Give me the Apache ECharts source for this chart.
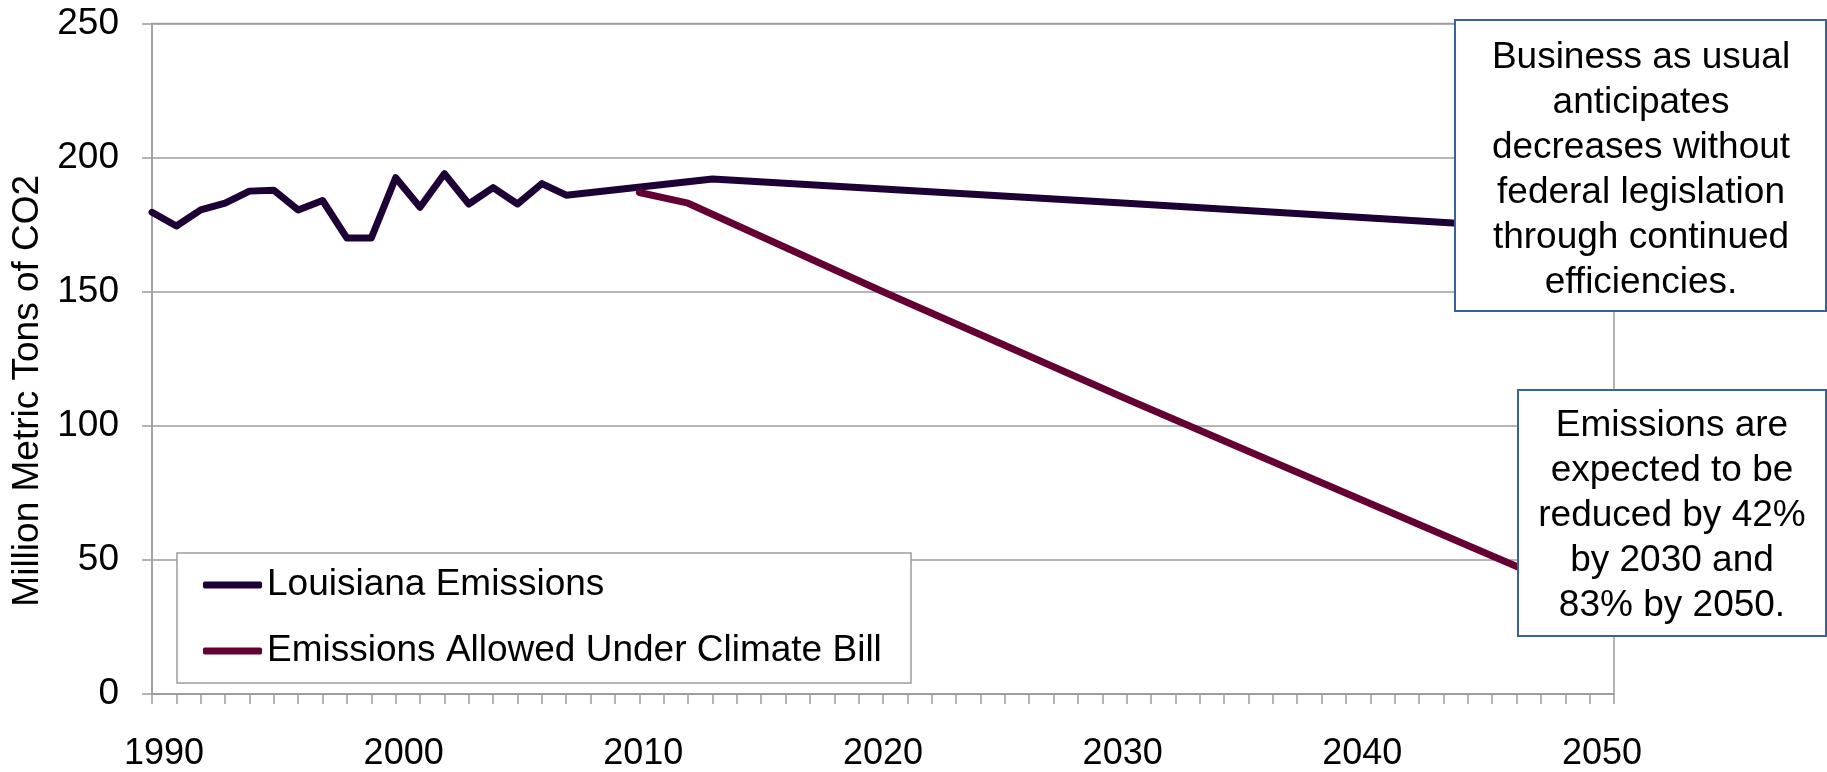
<!DOCTYPE html>
<html>
<head>
<meta charset="utf-8">
<script src="https://cdn.jsdelivr.net/npm/echarts@6/dist/echarts.min.js"></script>
<style>
  html, body { margin: 0; padding: 0; background: #fff; }
  #chart { width: 1827px; height: 772px; }
</style>
</head>
<body>
<div id="chart"></div>
<script>
// ---- data ----
const seriesNames = ['Louisiana Emissions', 'Emissions Allowed Under Climate Bill'];
const louisianaYears = [1990,1991,1992,1993,1994,1995,1996,1997,1998,1999,2000,2001,2002,2003,2004,2005,2006,2007,2013,2020,2030,2050];
const louisianaValues = [179.6,174.5,180.5,183,187.5,187.8,180.5,184,170,170,192.5,181.5,194,182.7,188.8,182.7,190.3,186,192,188.3,183,172];
const billYears = [2010, 2012, 2020, 2030, 2050];
const billValues = [187, 183, 150, 110, 32];
const xTickYears = [1990, 2000, 2010, 2020, 2030, 2040, 2050];
const yTicks = [0, 50, 100, 150, 200, 250];
const yAxisTitle = 'Million Metric Tons of CO2';
const note1 = 'Business as usual\nanticipates\ndecreases without\nfederal legislation\nthrough continued\nefficiencies.';
const note2 = 'Emissions are\nexpected to be\nreduced by 42%\nby 2030 and\n83% by 2050.';

const FONT = '"Liberation Sans", Arial, sans-serif';
const GRID_COLOR = '#9C9C9C';

// rich styles to spread the x labels like the original
const rich = {};
xTickYears.forEach(function (y) {
  const s = 12 * (1 - (y - xTickYears[0]) / 30);
  rich['y' + y] = {
    fontSize: 36, fontFamily: FONT, color: '#000',
    padding: s >= 0 ? [0, 0, 0, 2 * s] : [0, -2 * s, 0, 0]
  };
});

const chart = echarts.init(document.getElementById('chart'), null, { renderer: 'canvas' });
chart.setOption({
  backgroundColor: '#fff',
  animation: false,
  grid: {
    left: 152, right: 213, top: 23.5, bottom: 74.5,
    show: true, borderColor: GRID_COLOR, borderWidth: 1.5, containLabel: false
  },
  legend: {
    orient: 'vertical',
    left: 177, top: 553,
    padding: [12, 31, 12, 26],
    itemGap: 26,
    itemWidth: 59, itemHeight: 7,
    icon: 'roundRect',
    textStyle: { fontSize: 37, fontFamily: FONT, color: '#000', lineHeight: 40 },
    data: seriesNames
  },
  xAxis: {
    type: 'value',
    min: 1990, max: 2050, interval: 10,
    axisLine: { show: true, lineStyle: { color: GRID_COLOR, width: 1.5 } },
    axisTick: { show: true, length: 10, lineStyle: { color: GRID_COLOR, width: 1.5 } },
    minorTick: { show: true, splitNumber: 10, length: 10, lineStyle: { color: GRID_COLOR, width: 1.5 } },
    splitLine: { show: false },
    axisLabel: {
      margin: 42,
      formatter: function (v) { return '{y' + v + '|' + v + '}'; },
      rich: rich
    }
  },
  yAxis: {
    type: 'value',
    min: 0, max: 250, interval: 50,
    name: yAxisTitle,
    nameLocation: 'middle',
    nameRotate: 90,
    nameGap: 103,
    nameTextStyle: { fontSize: 37, fontFamily: FONT, color: '#000', padding: [0, 64, 0, 0] },
    axisLine: { show: true, lineStyle: { color: GRID_COLOR, width: 1.5 } },
    axisTick: { show: true, length: 10, lineStyle: { color: GRID_COLOR, width: 1.5 } },
    splitLine: { show: true, lineStyle: { color: GRID_COLOR, width: 1.5 } },
    axisLabel: {
      margin: 33, fontSize: 37, fontFamily: FONT, color: '#000',
      formatter: function (v) { return yTicks.indexOf(v) >= 0 ? String(v) : ''; }
    }
  },
  series: [
    {
      name: seriesNames[0],
      type: 'line',
      data: louisianaYears.map(function (y, i) { return [y, louisianaValues[i]]; }),
      symbol: 'none',
      lineStyle: { color: '#1C0036', width: 7, cap: 'round', join: 'round' },
      itemStyle: { color: '#1C0036' },
      z: 3
    },
    {
      name: seriesNames[1],
      type: 'line',
      data: billYears.map(function (y, i) { return [y, billValues[i]]; }),
      symbol: 'none',
      lineStyle: { color: '#650032', width: 7, cap: 'round', join: 'round' },
      itemStyle: { color: '#650032' },
      z: 4
    }
  ],
  graphic: [
    {
      type: 'rect', z: 3,
      shape: { x: 177, y: 553, width: 734, height: 130 },
      style: { fill: '#fff', stroke: '#9C9C9C', lineWidth: 1.5 }
    },
    {
      type: 'rect', z: 100,
      shape: { x: 1455, y: 20, width: 371, height: 291 },
      style: { fill: '#fff', stroke: '#3B6196', lineWidth: 2 }
    },
    {
      type: 'text', z: 101,
      x: 1641, y: 170,
      style: {
        text: note1, font: '37px ' + FONT, fill: '#000',
        align: 'center', verticalAlign: 'middle', lineHeight: 45
      }
    },
    {
      type: 'rect', z: 100,
      shape: { x: 1518, y: 390, width: 308, height: 246 },
      style: { fill: '#fff', stroke: '#3B6196', lineWidth: 2 }
    },
    {
      type: 'text', z: 101,
      x: 1672, y: 516,
      style: {
        text: note2, font: '37px ' + FONT, fill: '#000',
        align: 'center', verticalAlign: 'middle', lineHeight: 45
      }
    }
  ]
});
</script>
</body>
</html>
